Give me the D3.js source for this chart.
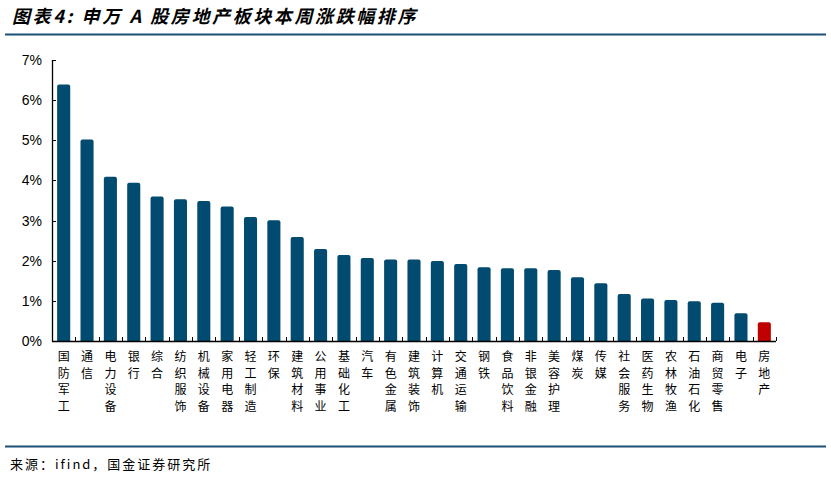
<!DOCTYPE html>
<html>
<head>
<meta charset="utf-8">
<script src="https://cdn.jsdelivr.net/npm/d3@7"></script>
<style>
  html, body { margin: 0; padding: 0; background: #fff; }
  svg { display: block; }
</style>
</head>
<body>
<svg id="chart" width="831" height="478"></svg>
<script>
const categories = ["国防军工","通信","电力设备","银行","综合","纺织服饰","机械设备","家用电器","轻工制造","环保","建筑材料","公用事业","基础化工","汽车","有色金属","建筑装饰","计算机","交通运输","钢铁","食品饮料","非银金融","美容护理","煤炭","传媒","社会服务","医药生物","农林牧渔","石油石化","商贸零售","电子","房地产"];
const values = [6.39, 5.02, 4.09, 3.94, 3.60, 3.53, 3.49, 3.35, 3.09, 3.01, 2.59, 2.29, 2.14, 2.07, 2.03, 2.03, 1.99, 1.92, 1.84, 1.81, 1.81, 1.77, 1.59, 1.44, 1.17, 1.06, 1.02, 0.99, 0.95, 0.69, 0.47];
const yTicks = [0, 1, 2, 3, 4, 5, 6, 7];
const highlight = "房地产";
const titleText = "图表4:  申万 A 股房地产板块本周涨跌幅排序";
const sourceText = "来源：ifind，国金证券研究所";

(function () {
const svg = d3.select("#chart");
const pL = 52, pR = 776, pT = 60, pB = 341;

const x = d3.scaleBand().domain(categories).range([pL, pR]).paddingInner(0.44).paddingOuter(0.22);
const y = d3.scaleLinear().domain([0, 7]).range([pB, pT]);

// Title
svg.append("text")
  .attr("x", 12).attr("y", 23)
  .attr("font-family", "'Noto Sans CJK SC', sans-serif")
  .attr("font-size", 18).attr("font-weight", "bold").attr("font-style", "italic")
  .attr("letter-spacing", 2.6)
  .attr("fill", "#000")
  .text(titleText);

svg.append("line").attr("x1", 5).attr("x2", 826).attr("y1", 34.5).attr("y2", 34.5)
  .attr("stroke", "#1d4f74").attr("stroke-width", 2);
svg.append("line").attr("x1", 5).attr("x2", 826).attr("y1", 446.5).attr("y2", 446.5)
  .attr("stroke", "#1d4f74").attr("stroke-width", 2);

svg.append("text")
  .attr("x", 10).attr("y", 469)
  .attr("font-family", "'Noto Sans CJK SC', sans-serif")
  .attr("font-size", 13).attr("letter-spacing", 2)
  .attr("fill", "#000")
  .text(sourceText);

// Bars with rounded top corners
const r = 2;
svg.append("g").selectAll("path").data(categories).join("path")
  .attr("d", (c, i) => {
    const x0 = x(c), w = x.bandwidth(), y0 = y(values[i]), y1 = y(0);
    return `M${x0},${y1} V${y0 + r} Q${x0},${y0} ${x0 + r},${y0} H${x0 + w - r} Q${x0 + w},${y0} ${x0 + w},${y0 + r} V${y1} Z`;
  })
  .attr("fill", c => c === highlight ? "#c00000" : "#014b70");

// Y axis
const yAxis = d3.axisLeft(y).tickValues(yTicks).tickSize(0).tickPadding(10).tickFormat(d => d + "%");
const gy = svg.append("g").attr("transform", `translate(${pL},0)`).call(yAxis);
gy.select(".domain").remove();
gy.selectAll("text").attr("font-family", "'Liberation Sans', Arial, sans-serif").attr("font-size", 14).attr("fill", "#000");
svg.append("line").attr("x1", pL + 0.5).attr("x2", pL + 0.5).attr("y1", pT).attr("y2", pB + 0.5)
  .attr("stroke", "#000").attr("stroke-width", 1.3);
svg.append("g").selectAll("line").data(yTicks).join("line")
  .attr("x1", pL).attr("x2", pL + 4)
  .attr("y1", d => Math.round(y(d)) + 0.5).attr("y2", d => Math.round(y(d)) + 0.5)
  .attr("stroke", "#000");

// X axis
svg.append("line").attr("x1", pL).attr("x2", pR).attr("y1", pB + 0.5).attr("y2", pB + 0.5)
  .attr("stroke", "#000").attr("stroke-width", 1.5);
const bounds = categories.map((c, i) => pL + i * x.step()).concat([pR]);
svg.append("g").selectAll("line").data(bounds).join("line")
  .attr("x1", d => Math.round(d) + 0.5).attr("x2", d => Math.round(d) + 0.5)
  .attr("y1", pB).attr("y2", pB - 4)
  .attr("stroke", "#000");

// Vertical category labels
const lab = svg.append("g").selectAll("text").data(categories).join("text")
  .attr("font-family", "'Noto Sans CJK SC', sans-serif")
  .attr("font-size", 12)
  .attr("fill", "#000")
  .attr("text-anchor", "middle");
lab.each(function(c) {
  const t = d3.select(this);
  const cx = x(c) + x.bandwidth() / 2;
  Array.from(c).forEach((ch, k) => {
    t.append("tspan").attr("x", cx).attr("y", 361 + k * 16.6).text(ch);
  });
});
})();
</script>
</body>
</html>
